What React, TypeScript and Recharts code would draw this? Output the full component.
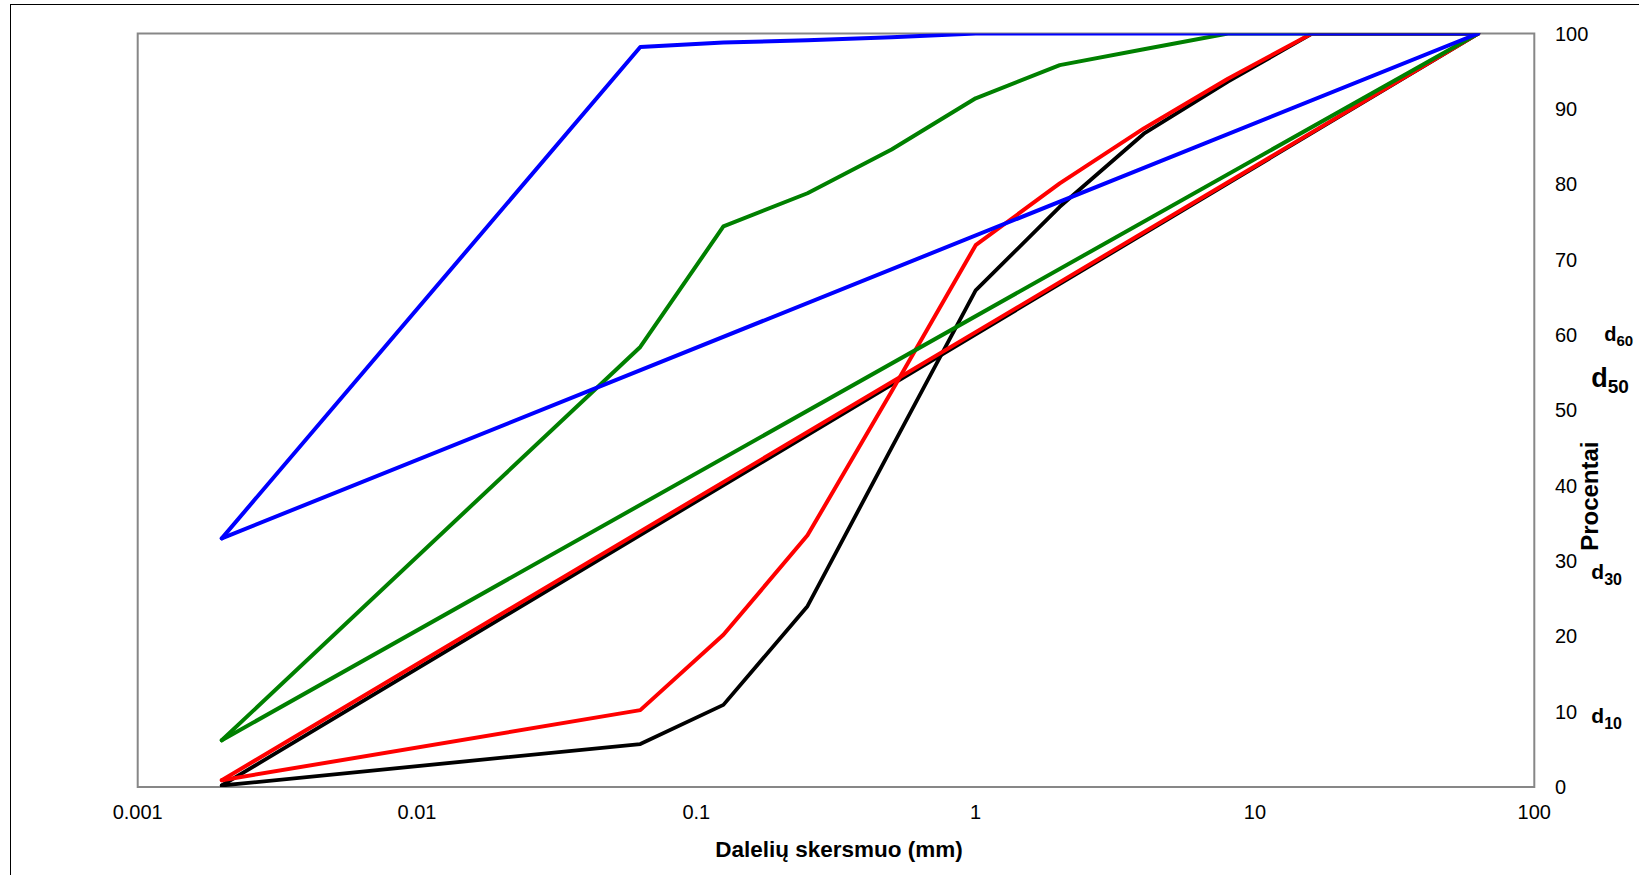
import React from 'react';
import { LineChart, Line, XAxis, YAxis, ReferenceArea } from 'recharts';

// Sieve sizes (mm)
const sizes = [0.002, 0.063, 0.125, 0.25, 0.5, 1, 2, 4, 8, 16, 31.5, 63];

// Cumulative percentages passing
const blackCurve = [0.2, 5.7, 10.9, 24.0, 45.0, 65.9, 77.0, 86.7, 93.6, 100, 100, 100];
const redCurve = [0.9, 10.2, 20.2, 33.4, 52.5, 71.9, 80.1, 87.4, 94.0, 100, 100, 100];
const greenCurve = [6.2, 58.4, 74.4, 78.8, 84.6, 91.4, 95.8, 97.9, 100, 100, 100, 100];
const blueCurve = [33.0, 98.2, 98.8, 99.1, 99.5, 100, 100, 100, 100, 100, 100, 100];

// Straight reference lines (first to last sieve)
const straightSizes = [0.002, 63];
const blackStraight = [0.2, 100];
const redStraight = [0.9, 100];
const greenStraight = [6.2, 100];
const blueStraight = [33.0, 100];

const xTicks = [0.001, 0.01, 0.1, 1, 10, 100];
const xTickLabels = ['0.001', '0.01', '0.1', '1', '10', '100'];
const yTicks = [0, 10, 20, 30, 40, 50, 60, 70, 80, 90, 100];

const dLabelSubs = ['60', '50', '30', '10'];
const dLabelValues = [60, 53.9, 28.3, 9.2];

const xTitle = 'Dalelių skersmuo (mm)';
const yTitle = 'Procentai';

const toPoints = (xs: number[], ys: number[]) => xs.map((x, i) => ({ x, y: ys[i] }));

const FONT = '"Liberation Sans", Arial, sans-serif';

const W = 1639;
const H = 875;
const PLOT_LEFT = 137.7;
const PLOT_TOP = 33.5;
const PLOT_RIGHT = 1534.3;
const PLOT_BOTTOM = 787;
const Y_AXIS_W = 100;
const X_AXIS_H = 60;

// style per d-label
const dStyles = [
  { d: 20, sub: 15, dx: 70 },
  { d: 27, sub: 19, dx: 57 },
  { d: 21, sub: 16, dx: 57 },
  { d: 21, sub: 16, dx: 57 },
];

const series = [
  { name: 'blackCurve', xs: sizes, ys: blackCurve, color: '#000000', w: 3.8 },
  { name: 'blackStraight', xs: straightSizes, ys: blackStraight, color: '#000000', w: 3.8 },
  { name: 'redCurve', xs: sizes, ys: redCurve, color: '#FF0000', w: 4 },
  { name: 'redStraight', xs: straightSizes, ys: redStraight, color: '#FF0000', w: 4 },
  { name: 'greenCurve', xs: sizes, ys: greenCurve, color: '#008000', w: 4 },
  { name: 'greenStraight', xs: straightSizes, ys: greenStraight, color: '#008000', w: 4 },
  { name: 'blueStraight', xs: straightSizes, ys: blueStraight, color: '#0000FF', w: 4 },
  { name: 'blueCurve', xs: sizes, ys: blueCurve, color: '#0000FF', w: 4 },
];

const XTick = (props: any) => {
  const { x, y, payload } = props;
  const idx = xTicks.indexOf(payload.value);
  return (
    <text x={x} y={y} dy="0.355em" textAnchor="middle" fontFamily={FONT} fontSize={20} fill="#000">
      {idx >= 0 ? xTickLabels[idx] : String(payload.value)}
    </text>
  );
};

const YTick = (props: any) => {
  const { x, y, payload } = props;
  return (
    <text x={x} y={y} dy="0.355em" textAnchor="start" fontFamily={FONT} fontSize={20} fill="#000">
      {payload.value}
    </text>
  );
};

const XTitle = (props: any) => {
  const vb = props.viewBox || {};
  const cx = vb.x + vb.width / 2 + 3;
  const cy = vb.y + 62;
  return (
    <text x={cx} y={cy} dy="0.355em" textAnchor="middle" fontFamily={FONT} fontSize={22.5} fontWeight="bold" fill="#000">
      {xTitle}
    </text>
  );
};

const YTitle = (props: any) => {
  const vb = props.viewBox || {};
  const ax = vb.x;
  const top = vb.y;
  const h = vb.height;
  const yOf = (v: number) => top + h * (1 - v / 100);
  const px = ax + 55;
  const py = top + h * 0.614;
  return (
    <g>
      <text
        x={px}
        y={py}
        dy="0.355em"
        textAnchor="middle"
        transform={`rotate(-90, ${px}, ${py})`}
        fontFamily={FONT}
        fontSize={24}
        fontWeight="bold"
        fill="#000"
      >
        {yTitle}
      </text>
      {dLabelSubs.map((s, i) => (
        <text
          key={s}
          x={ax + dStyles[i].dx}
          y={yOf(dLabelValues[i])}
          dy="0.355em"
          fontFamily={FONT}
          fontWeight="bold"
          fill="#000"
        >
          <tspan fontSize={dStyles[i].d}>d</tspan>
          <tspan fontSize={dStyles[i].sub} dy={dStyles[i].sub * 0.35}>{s}</tspan>
        </text>
      ))}
    </g>
  );
};

export default function App() {
  return (
    <div style={{ position: 'absolute', left: 0, top: 0, width: W, height: H, background: '#fff', overflow: 'hidden' }}>
      <div
        style={{
          position: 'absolute',
          left: 10,
          top: 4,
          width: W - 10,
          height: H - 4,
          borderTop: '1.5px solid #000',
          borderLeft: '1.5px solid #000',
          boxSizing: 'border-box',
        }}
      />
      <div style={{ position: 'absolute', left: 0, top: 0 }}>
        <LineChart
          width={W}
          height={H}
          margin={{
            top: PLOT_TOP,
            left: PLOT_LEFT,
            right: W - PLOT_RIGHT - Y_AXIS_W,
            bottom: H - PLOT_BOTTOM - X_AXIS_H,
          }}
        >
          <XAxis
            type="number"
            dataKey="x"
            scale="log"
            domain={[0.001, 100]}
            ticks={xTicks}
            allowDataOverflow
            axisLine={false}
            tickLine={false}
            tickSize={6}
            tickMargin={19}
            height={X_AXIS_H}
            tick={<XTick />}
            interval={0}
            label={{ content: <XTitle /> }}
          />
          <YAxis
            type="number"
            dataKey="y"
            orientation="right"
            domain={[0, 100]}
            ticks={yTicks}
            allowDataOverflow
            axisLine={false}
            tickLine={false}
            tickSize={6}
            tickMargin={14.7}
            width={Y_AXIS_W}
            tick={<YTick />}
            interval={0}
            label={{ content: <YTitle /> }}
          />
          <ReferenceArea
            x1={0.001}
            x2={100}
            y1={0}
            y2={100}
            fill="none"
            stroke="#878787"
            strokeWidth={2}
            ifOverflow="visible"
          />
          {series.map((s) => (
            <Line
              key={s.name}
              data={toPoints(s.xs, s.ys)}
              dataKey="y"
              type="linear"
              stroke={s.color}
              strokeWidth={s.w}
              strokeLinejoin="round"
              strokeLinecap="round"
              dot={false}
              activeDot={false}
              isAnimationActive={false}
            />
          ))}
        </LineChart>
      </div>
    </div>
  );
}
